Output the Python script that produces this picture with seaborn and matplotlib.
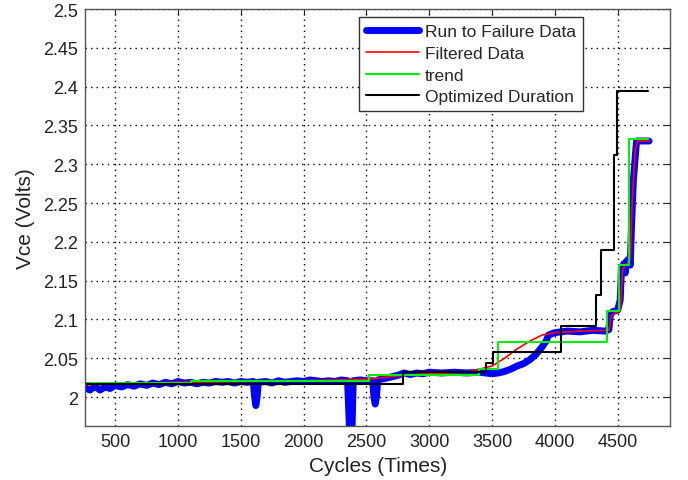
import numpy as np
import pandas as pd
import seaborn as sns
import matplotlib
matplotlib.use("Agg")
import matplotlib.pyplot as plt
from matplotlib.ticker import FormatStrFormatter, MultipleLocator

# run to failure data
raw_cycles = [260, 300, 340, 380, 420, 460, 500, 550, 600, 650, 700, 750, 800, 850, 900,
              950, 1000, 1050, 1100, 1150, 1200, 1250, 1300, 1350, 1400, 1450, 1500, 1550,
              1600, 1610, 1620, 1630, 1640, 1700, 1750, 1800, 1850, 1900, 1950, 2000, 2050,
              2100, 2150, 2200, 2250, 2300, 2350, 2365, 2385, 2395, 2450, 2500, 2550, 2560,
              2570, 2580, 2590, 2650, 2700, 2750, 2800, 2850, 2900, 2950, 3000, 3100, 3200,
              3300, 3400, 3500, 3550, 3600, 3650, 3700, 3750, 3800, 3850, 3900, 3930, 3950,
              4000, 4100, 4200, 4300, 4400, 4430, 4440, 4460, 4500, 4520, 4530, 4550, 4560,
              4570, 4590, 4600, 4610, 4625, 4640, 4650, 4750]
raw_vce = [2.012, 2.009, 2.014, 2.009, 2.013, 2.011, 2.015, 2.013, 2.016, 2.014, 2.017, 2.015,
           2.018, 2.016, 2.019, 2.017, 2.020, 2.018, 2.019, 2.017, 2.019, 2.018, 2.020, 2.019,
           2.020, 2.018, 2.020, 2.019, 2.020, 2.000, 1.989, 2.000, 2.019, 2.020, 2.018, 2.021,
           2.019, 2.020, 2.021, 2.020, 2.022, 2.021, 2.020, 2.021, 2.020, 2.022, 2.021, 1.960,
           1.955, 2.021, 2.022, 2.021, 2.021, 2.000, 1.991, 2.000, 2.022, 2.024, 2.026, 2.028,
           2.031, 2.029, 2.031, 2.030, 2.032, 2.031, 2.032, 2.031, 2.032, 2.030, 2.031, 2.033,
           2.036, 2.040, 2.043, 2.048, 2.055, 2.065, 2.072, 2.080, 2.083, 2.085, 2.084, 2.086,
           2.085, 2.087, 2.105, 2.110, 2.112, 2.125, 2.165, 2.172, 2.160, 2.175, 2.178, 2.170,
           2.220, 2.280, 2.310, 2.330, 2.330]

# filtered data
filt_cycles = [260, 500, 1000, 1500, 2000, 2500, 2800, 3000, 3300, 3500, 3600, 3700, 3800,
               3900, 4000, 4200, 4430, 4450, 4520, 4540, 4600, 4615, 4640, 4660, 4750]
filt_vce = [2.016, 2.017, 2.019, 2.020, 2.021, 2.023, 2.028, 2.030, 2.032, 2.040, 2.050,
            2.062, 2.072, 2.080, 2.083, 2.085, 2.086, 2.105, 2.112, 2.165, 2.178, 2.250,
            2.320, 2.330, 2.330]

# trend (step)
trend_cycles = [260, 1100, 2517, 3400, 3545, 4415, 4511, 4591, 4740]
trend_vce = [2.0175, 2.0205, 2.0285, 2.036, 2.071, 2.111, 2.170, 2.332, 2.332]

# optimized duration (step)
opt_cycles = [260, 2790, 3450, 3506, 4049, 4328, 4368, 4471, 4495, 4745]
opt_vce = [2.017, 2.032, 2.044, 2.058, 2.091, 2.131, 2.189, 2.312, 2.395, 2.395]

raw = pd.DataFrame({"cycles": raw_cycles, "vce": raw_vce})
filt = pd.DataFrame({"cycles": filt_cycles, "vce": filt_vce})
trend = pd.DataFrame({"cycles": trend_cycles, "vce": trend_vce})
opt = pd.DataFrame({"cycles": opt_cycles, "vce": opt_vce})

sns.set_style("white")
plt.rcParams["font.family"] = ["Liberation Sans", "DejaVu Sans"]

fig = plt.figure(figsize=(6.88, 4.81), dpi=100)
ax = fig.add_axes([0.1235, 0.112, 0.851, 0.867])

sns.lineplot(data=raw, x="cycles", y="vce", ax=ax, color="#0000ff", linewidth=5,
             label="Run to Failure Data", sort=False)
sns.lineplot(data=filt, x="cycles", y="vce", ax=ax, color="#ff0000", linewidth=1.2,
             label="Filtered Data", sort=False)
sns.lineplot(data=trend, x="cycles", y="vce", ax=ax, color="#00ee00", linewidth=1.5,
             label="trend", drawstyle="steps-post", sort=False)
sns.lineplot(data=opt, x="cycles", y="vce", ax=ax, color="black", linewidth=1.5,
             label="Optimized Duration", drawstyle="steps-post", sort=False)

ax.set_xlim(260, 4920)
ax.set_ylim(1.9625, 2.5)
ax.xaxis.set_major_locator(MultipleLocator(500))
ax.yaxis.set_major_locator(MultipleLocator(0.05))
ax.yaxis.set_major_formatter(FormatStrFormatter("%g"))
ax.grid(True, color="black", linestyle=(0, (1, 3)), linewidth=1.0)
ax.tick_params(direction="in", length=4, top=True, right=True, labelsize=13,
               colors="#222222", pad=5)
for s in ax.spines.values():
    s.set_color("#555555")
    s.set_linewidth(1.0)

ax.set_xlabel("Cycles (Times)", fontsize=15, color="#222222", labelpad=4)
ax.set_ylabel("Vce (Volts)", fontsize=15, color="#222222", labelpad=6)

leg = ax.legend(loc="upper right", bbox_to_anchor=(0.85, 0.981), borderaxespad=0,
                fontsize=12.5, fancybox=False, framealpha=1, edgecolor="#333333",
                borderpad=0.4, labelspacing=0.38, handlelength=3.1, handletextpad=0.3)
leg.get_frame().set_linewidth(1.0)

fig.savefig("out.png", dpi=100)
